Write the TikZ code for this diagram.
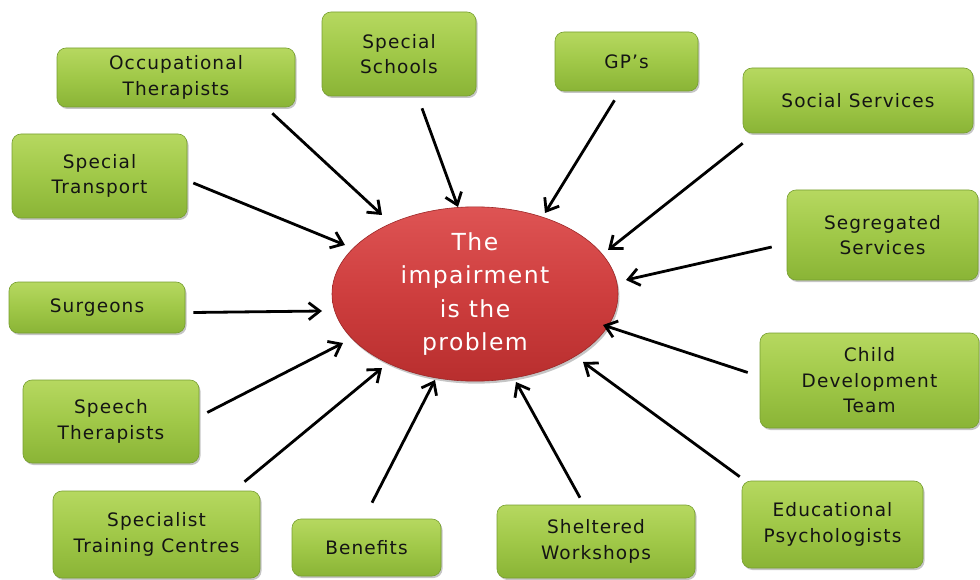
\documentclass[tikz,border=0pt]{standalone}
\usepackage{fontspec}
\setmainfont{DejaVu Sans}
\newfontfamily\boxfont[LetterSpace=6]{DejaVu Sans}
\usetikzlibrary{shapes.geometric,arrows.meta,shadows,calc}
\definecolor{gtop}{RGB}{182,216,96}
\definecolor{gmid}{RGB}{160,200,72}
\definecolor{gbot}{RGB}{138,180,54}
\definecolor{gline}{RGB}{118,158,48}
\definecolor{rtop}{RGB}{222,84,84}
\definecolor{rmid}{RGB}{206,62,62}
\definecolor{rbot}{RGB}{184,46,46}
\definecolor{txt}{RGB}{20,20,20}
\begin{document}
\begin{tikzpicture}[x=1pt,y=-1pt,
  agency/.style={rectangle, rounded corners=9pt, draw=gline, line width=0.6pt,
    top color=gtop, bottom color=gbot, middle color=gmid,
    drop shadow={shadow xshift=1.5pt, shadow yshift=-2pt, fill=black!45, opacity=0.5},
    font=\boxfont\fontsize{18.5}{25.5}\selectfont, text=txt, align=center, inner sep=0pt},
  core/.style={ellipse, draw=rbot!85!black, line width=0.6pt,
    top color=rtop, bottom color=rbot, middle color=rmid,
    drop shadow={shadow xshift=1.5pt, shadow yshift=-2.5pt, fill=black!45, opacity=0.5},
    font=\boxfont\fontsize{23.5}{33.5}\selectfont, text=white, align=center, inner sep=0pt},
  arr/.style={-{Straight Barb[length=11pt,width=17pt,line width=2.8pt]}, line width=2.8pt, black}]
\useasboundingbox (0,0) rectangle (980,580);

% central ellipse
\node[core, minimum width=286pt, minimum height=158pt] (ell) at (475,294)
  {The\\impairment\\is the\\problem};

% surrounding agencies
\node[agency, minimum width=238pt, minimum height=59pt] (occ) at (176,77.5) {Occupational\\Therapists};
\node[agency, minimum width=154pt, minimum height=84pt] (sch) at (399,54) {Special\\Schools};
\node[agency, minimum width=143pt, minimum height=59pt] (gp)  at (626.5,61.5) {GP’s};
\node[agency, minimum width=230pt, minimum height=65pt] (soc) at (858,100.5) {Social Services};
\node[agency, minimum width=175pt, minimum height=84pt] (trn) at (99.5,176) {Special\\Transport};
\node[agency, minimum width=191pt, minimum height=90pt] (seg) at (882.5,235) {Segregated\\Services};
\node[agency, minimum width=176pt, minimum height=51pt] (sur) at (97,307.5) {Surgeons};
\node[agency, minimum width=219pt, minimum height=95pt] (cdt) at (869.5,380.5) {Child\\Development\\Team};
\node[agency, minimum width=176pt, minimum height=83pt] (spt) at (111,421.5) {Speech\\Therapists};
\node[agency, minimum width=181pt, minimum height=87pt] (edu) at (832.5,524.5) {Educational\\Psychologists};
\node[agency, minimum width=207pt, minimum height=87pt] (stc) at (156.5,534.5) {Specialist\\Training Centres};
\node[agency, minimum width=149pt, minimum height=57pt] (ben) at (366.5,547.5) {Benefits};
\node[agency, minimum width=198pt, minimum height=73pt] (shw) at (596,541.5) {Sheltered\\Workshops};

% arrow start points, just off each box
\coordinate (sOcc) at ($(occ.south east)+(-23,6)$);
\coordinate (sSch) at ($(sch.south)+(23,12)$);
\coordinate (sGp)  at ($(gp.south)+(-12,9)$);
\coordinate (sSoc) at ($(soc.south west)+(0,10)$);
\coordinate (sTrn) at ($(trn.east)+(6,7)$);
\coordinate (sSeg) at ($(seg.west)+(-15,12)$);
\coordinate (sSur) at ($(sur.east)+(8,5)$);
\coordinate (sCdt) at ($(cdt.west)+(-12,-8)$);
\coordinate (sSpt) at ($(spt.east)+(8,-9)$);
\coordinate (sEdu) at ($(edu.north west)+(-2,-4)$);
\coordinate (sStc) at ($(stc.north)+(88,-9)$);
\coordinate (sBen) at ($(ben.north)+(5.5,-16)$);
\coordinate (sShw) at ($(shw.north)+(-16,-7)$);

% arrow tips around the ellipse
\coordinate (tOcc) at (382,215);
\coordinate (tSch) at (458,207);
\coordinate (tGp)  at (545,213);
\coordinate (tSoc) at (608,250);
\coordinate (tTrn) at (345,245);
\coordinate (tSeg) at (626,280);
\coordinate (tSur) at (322,311);
\coordinate (tCdt) at (603,325);
\coordinate (tSpt) at (343,343);
\coordinate (tEdu) at (583,362);
\coordinate (tStc) at (382,368);
\coordinate (tBen) at (435,380);
\coordinate (tShw) at (516,382);

\foreach \n in {Occ,Sch,Gp,Soc,Trn,Seg,Sur,Cdt,Spt,Edu,Stc,Ben,Shw}
  \draw[arr] (s\n) -- (t\n);
\end{tikzpicture}
\end{document}
